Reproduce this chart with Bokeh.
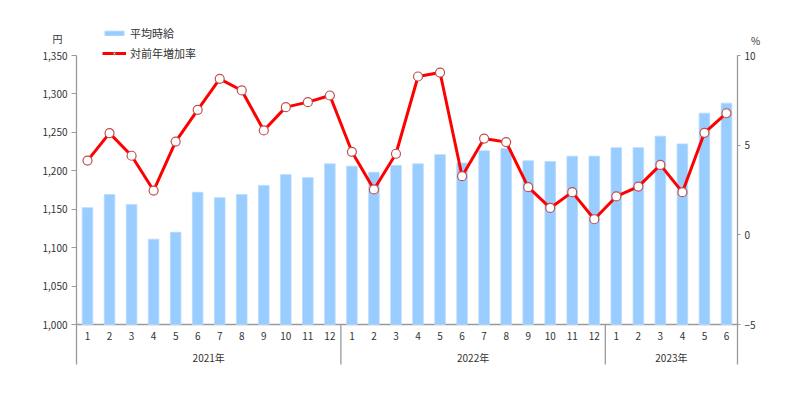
from bokeh.plotting import figure
from bokeh.models import (Range1d, LinearAxis, FixedTicker, Legend, LegendItem,
                          Label, ColumnDataSource, NumeralTickFormatter)
from bokeh.core.properties import value
from bokeh.embed import file_html
from bokeh.resources import INLINE

# ---- data ----
years = ["2021年", "2022年", "2023年"]
months_per_year = [12, 12, 6]
month_labels = [str(m) for m in range(1, 13)] + [str(m) for m in range(1, 13)] + [str(m) for m in range(1, 7)]
wage = [1152, 1169, 1156, 1111, 1120, 1172, 1165, 1169, 1181, 1195, 1191, 1209,
        1206, 1198, 1207, 1209, 1221, 1210, 1226, 1229, 1213, 1212, 1219, 1219,
        1230, 1230, 1245, 1235, 1275, 1288]
growth = [4.14, 5.67, 4.41, 2.47, 5.20, 6.97, 8.70, 8.05, 5.82, 7.12, 7.40, 7.77,
          4.63, 2.53, 4.52, 8.83, 9.05, 3.27, 5.37, 5.17, 2.66, 1.50, 2.38, 0.87,
          2.14, 2.69, 3.90, 2.38, 5.69, 6.78]
left_ticks = [1000, 1050, 1100, 1150, 1200, 1250, 1300, 1350]
right_ticks = [-5, 0, 5, 10]

# ---- layout (px) ----
PLOT_W, PLOT_H = 661, 269      # plot area: categories x 1,000..1,350
LEFT = 36                      # frame left edge on the page
PAD_L, PAD_R = 76 - LEFT, 33   # frame extends left/right of plot area
PAD_T, PAD_B = 35, 42          # frame extends above/below plot area
FONT = "Noto Sans CJK JP"
TXT = "#333333"
AX = "#9a9a9a"

n = len(wage)
x = list(range(1, n + 1))
cw = PLOT_W / n
lo, hi = left_ticks[0], left_ticks[-1]
rlo, rhi = right_ticks[0], right_ticks[-1]
ppu = PLOT_H / (hi - lo)
rppu = PLOT_H / (rhi - rlo)

p = figure(frame_width=PLOT_W + PAD_L + PAD_R, frame_height=PLOT_H + PAD_T + PAD_B,
           x_range=Range1d(0.5 - PAD_L / cw, n + 0.5 + PAD_R / cw),
           y_range=Range1d(lo - PAD_B / ppu, hi + PAD_T / ppu),
           x_axis_location=None, y_axis_location="left",
           output_backend="svg", toolbar_location=None,
           min_border_left=LEFT, min_border_top=20, min_border_right=4, min_border_bottom=4)
p.outline_line_color = None
p.xgrid.visible = False
p.ygrid.visible = False

p.extra_y_ranges = {"pct": Range1d(rlo - PAD_B / rppu, rhi + PAD_T / rppu)}

yax = p.yaxis[0]
yax.ticker = FixedTicker(ticks=left_ticks, minor_ticks=[])
yax.formatter = NumeralTickFormatter(format="0,0")
yax.bounds = (lo - 40 / ppu, hi)
yax.fixed_location = 0.5
ray = LinearAxis(y_range_name="pct", ticker=FixedTicker(ticks=right_ticks, minor_ticks=[]),
                 bounds=(rlo - 40 / rppu, rhi), fixed_location=n + 0.5)
p.add_layout(ray, "right")
for ax in (yax, ray):
    ax.axis_line_color = AX
    ax.axis_line_width = 1.3
    ax.major_tick_line_color = AX
    ax.major_tick_out = 5
    ax.major_tick_in = 0
    ax.minor_tick_out = 0
    ax.minor_tick_in = 0
    ax.major_label_text_font = FONT
    ax.major_label_text_font_size = "10px"
    ax.major_label_text_color = TXT
    ax.major_label_standoff = 4
ray.major_tick_out = 3

# x axis line at 1,000
p.segment(x0=[0.5], y0=[lo], x1=[n + 0.5], y1=[lo], line_color=AX, line_width=1.3)

# bars
bars = p.vbar(x=x, top=wage, bottom=lo, width=0.48, fill_color="#99CCFF",
              line_color="#B5DAFF", line_width=0.8)

# line + markers
src = ColumnDataSource(dict(x=x, g=growth))
ln = p.line("x", "g", source=src, y_range_name="pct", line_color="#FF0000", line_width=3)
mk = p.scatter("x", "g", source=src, y_range_name="pct", marker="circle", size=9,
               fill_color="white", line_color="#C0504D", line_width=1.2)

# category labels (months, years) and separators
month_y = lo - 11 / ppu
year_y = lo - 33 / ppu
sep_bottom = lo - 40 / ppu
p.text(x=x, y=[month_y] * n, text=month_labels, text_align="center", text_baseline="middle",
       text_font=value(FONT), text_font_size="10px", text_color=TXT)
starts = [0.5]
for c in months_per_year:
    starts.append(starts[-1] + c)
centers = [(starts[i] + starts[i + 1]) / 2 for i in range(len(years))]
p.text(x=centers, y=[year_y] * len(years), text=years, text_align="center", text_baseline="middle",
       text_font=value(FONT), text_font_size="10px", text_color=TXT)
inner = starts[1:-1]
p.segment(x0=inner, y0=[lo] * len(inner), x1=inner, y1=[sep_bottom] * len(inner),
          line_color=AX, line_width=1.3)

# unit labels
p.add_layout(Label(x=0.5 - 19 / cw, y=hi + 17 / ppu, text="円", text_align="center",
                   text_baseline="middle", text_font=FONT, text_font_size="10px", text_color=TXT))
p.add_layout(Label(x=n + 0.5 + 18 / cw, y=hi + 15 / ppu, text="%", text_align="center",
                   text_baseline="middle", text_font=FONT, text_font_size="10px", text_color=TXT))

legend = Legend(items=[LegendItem(label="平均時給", renderers=[bars]),
                       LegendItem(label="対前年増加率", renderers=[ln, mk])],
                location=(PAD_L + 26, PLOT_H + PAD_B - 6), orientation="vertical",
                padding=0, margin=0, spacing=3, glyph_width=24, glyph_height=6,
                label_height=17, label_standoff=4,
                label_text_font=FONT, label_text_font_size="11px", label_text_color=TXT,
                border_line_color=None, background_fill_alpha=0)
p.add_layout(legend, "center")

open("out.html", "w").write(file_html(p, INLINE))
